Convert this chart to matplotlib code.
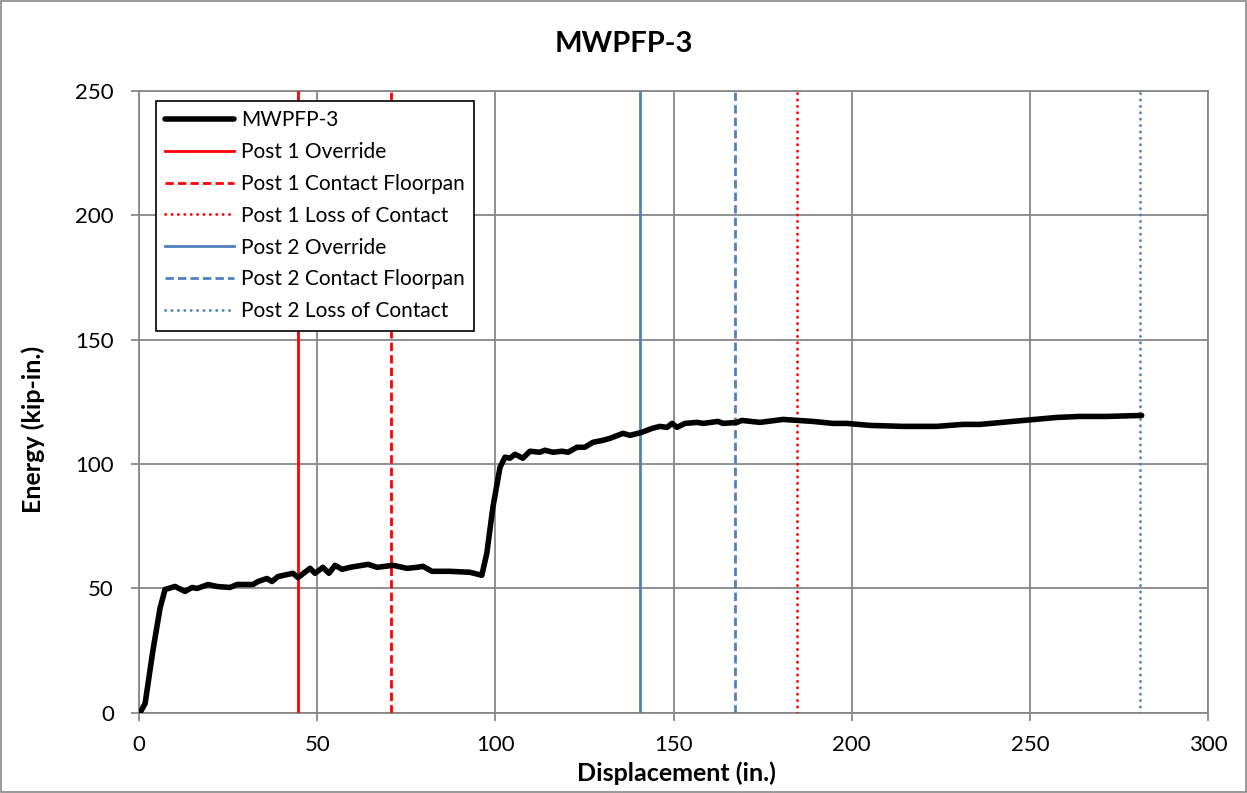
import matplotlib
matplotlib.use("Agg")
import matplotlib.pyplot as plt
from matplotlib.patches import Rectangle

plt.rcParams['font.family'] = ['Lato', 'DejaVu Sans']

# energy vs displacement
disp = [0.3, 1.7, 3.9, 5.9, 7.3, 10.1, 12.9, 14.9, 16.3, 19.4, 21.9, 25.5, 27.5, 32.0,
        33.4, 35.9, 37.3, 39.0, 43.2, 44.6, 48.0, 49.4, 51.6, 53.3, 55.0, 57.0, 59.2,
        64.3, 66.8, 71.3, 75.2, 78.0, 79.7, 82.2, 87.3, 92.9, 96.2, 97.6, 99.3, 101.3,
        102.7, 104.1, 105.5, 107.7, 109.7, 112.5, 113.9, 116.2, 118.7, 120.4, 122.9,
        125.1, 127.4, 130.2, 132.2, 135.8, 137.8, 141.1, 144.0, 146.2, 148.2, 149.6,
        151.0, 153.2, 156.6, 158.3, 162.5, 163.9, 167.8, 169.2, 174.3, 180.7, 184.9,
        189.1, 194.7, 198.6, 205.1, 214.4, 223.9, 231.2, 236.0, 245.2, 257.6, 264.0,
        271.6, 281.4]
energy = [0.0, 3.6, 25.0, 42.0, 49.5, 50.7, 48.7, 50.3, 49.9, 51.5, 50.7, 50.3, 51.5, 51.5,
          52.7, 53.9, 52.7, 54.7, 56.0, 54.3, 58.0, 56.0, 58.4, 56.0, 59.2, 57.6, 58.4,
          59.6, 58.4, 59.2, 58.0, 58.4, 58.8, 56.8, 56.8, 56.4, 55.2, 64.0, 82.5, 98.6,
          102.7, 102.3, 103.9, 102.3, 105.1, 104.7, 105.5, 104.7, 105.1, 104.7, 106.7,
          106.7, 108.7, 109.5, 110.3, 112.3, 111.5, 112.7, 114.3, 115.1, 114.7, 116.3,
          114.7, 116.3, 116.7, 116.3, 117.1, 116.3, 116.7, 117.5, 116.7, 117.9, 117.5,
          117.1, 116.3, 116.3, 115.5, 115.1, 115.1, 115.9, 115.9, 117.1, 118.7, 119.1,
          119.1, 119.5]

event_labels = ['Post 1 Override', 'Post 1 Contact Floorpan', 'Post 1 Loss of Contact',
                'Post 2 Override', 'Post 2 Contact Floorpan', 'Post 2 Loss of Contact']
event_x = [44.6, 70.7, 184.6, 140.6, 167.2, 280.9]
event_colors = ['#FF0000', '#FF0000', '#FF0000', '#4F81BD', '#4F81BD', '#4F81BD']
event_styles = ['-', (0, (3, 1.5)), (0, (0.1, 2.2)), '-', (0, (3, 1.5)), (0, (0.1, 2.2))]
event_caps = ['butt', 'butt', 'round', 'butt', 'butt', 'round']

fig = plt.figure(figsize=(12.47, 7.93), dpi=100)
ax = fig.add_axes([0.1115, 0.1015, 0.8572, 0.7837])

ax.plot(disp, energy, color='black', lw=4.0, label='MWPFP-3', solid_capstyle='round',
        solid_joinstyle='round', zorder=5)
for x, lab, c, ls, cap in zip(event_x, event_labels, event_colors, event_styles, event_caps):
    ax.axvline(x, color=c, ls=ls, lw=2.0, label=lab, zorder=4, dash_capstyle=cap)

ax.set_xlim(0, 300)
ax.set_ylim(0, 250)
ax.set_xticks(range(0, 301, 50))
ax.set_yticks(range(0, 251, 50))
ax.grid(True, color='#878787', lw=1.3)
ax.set_axisbelow(True)
for s in ax.spines.values():
    s.set_color('#878787')
    s.set_linewidth(1.3)
ax.tick_params(labelsize=16, length=6, color='#878787', width=1.3)
ax.tick_params(axis='x', pad=10)
ax.tick_params(axis='y', pad=12)

fig.text(0.5, 1 - 52 / 793, 'MWPFP-3', fontsize=21, fontweight='bold',
         ha='center', va='baseline')
ax.set_xlabel('Displacement (in.)', fontsize=18, fontweight='bold', va='baseline')
ax.xaxis.set_label_coords(0.5025, -0.110)
ax.set_ylabel('Energy (kip-in.)', fontsize=18, fontweight='bold', va='baseline')
ax.yaxis.set_label_coords(-0.0917, 0.455)

leg = ax.legend(loc='upper left', bbox_to_anchor=(0.0156, 0.9844), borderaxespad=0,
                fontsize=15, fancybox=False, framealpha=1, edgecolor='black',
                handlelength=3.3, labelspacing=0.57, borderpad=0.45, handletextpad=0.35)
leg.get_frame().set_linewidth(1.2)

fig.patches.append(Rectangle((0.001, 0.001), 0.998, 0.998, transform=fig.transFigure,
                             fill=False, edgecolor='#878787', lw=1.2))

fig.savefig('out.png', dpi=100)
